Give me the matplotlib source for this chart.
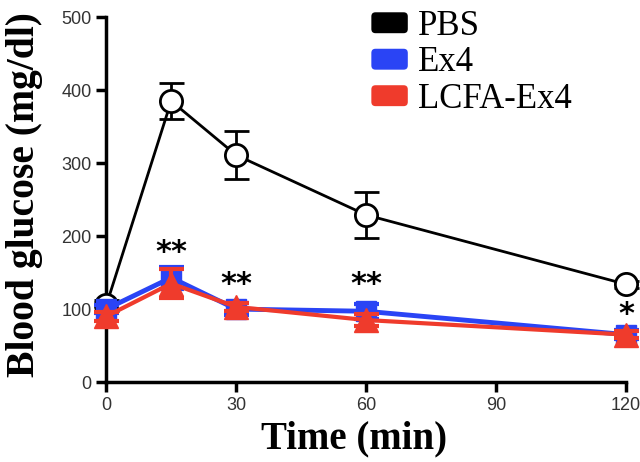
import matplotlib
matplotlib.use("Agg")
from matplotlib import pyplot as plt
from matplotlib.patches import FancyBboxPatch
from matplotlib.legend_handler import HandlerPatch

time = [0, 15, 30, 60, 120]

pbs = [105, 385, 311, 229, 134]
pbs_err = [8, 25, 33, 31, 5]

ex4 = [100, 143, 100, 97, 65]
ex4_err = [6, 15, 8, 10, 6]

lcfa = [90, 135, 103, 85, 65]
lcfa_err = [6, 20, 6, 8, 5]

stars = ["**", "**", "**", "*"]
star_x = [15, 30, 60, 120]
star_y = [178, 133, 133, 92]

fig = plt.figure(figsize=(6.4, 4.62), dpi=100)
ax = fig.add_axes([0.166, 0.173, 0.812, 0.79])

ax.errorbar(time, pbs, yerr=pbs_err, color="black", lw=2, marker="o", ms=16,
            mfc="white", mec="black", mew=2, capsize=9, capthick=2, elinewidth=2,
            clip_on=False, zorder=3)
ax.errorbar(time, ex4, yerr=ex4_err, color="#2a44f5", lw=3.5, marker="s", ms=15,
            capsize=9, capthick=3, elinewidth=3, clip_on=False, zorder=4)
ax.errorbar(time, lcfa, yerr=lcfa_err, color="#ef3b2c", lw=3, marker="^", ms=17,
            capsize=9, capthick=3, elinewidth=3, clip_on=False, zorder=5)

for s, x, y in zip(stars, star_x, star_y):
    ax.text(x, y, s, ha="center", va="center", fontsize=22, fontweight="bold",
            family="DejaVu Sans")

ax.set_xlim(0, 120)
ax.set_ylim(0, 500)
ax.set_xticks([0, 30, 60, 90, 120])
ax.set_yticks([0, 100, 200, 300, 400, 500])
for side in ["top", "right"]:
    ax.spines[side].set_visible(False)
for side in ["left", "bottom"]:
    ax.spines[side].set_linewidth(2.5)
ax.tick_params(width=2.5, length=7, labelsize=13, labelcolor="#333333")
for lab in ax.get_xticklabels() + ax.get_yticklabels():
    lab.set_family("Liberation Sans")

ax.set_xlabel("Time (min)", family="Liberation Serif", fontweight="bold",
              fontsize=28)
ax.set_ylabel("Blood glucose (mg/dl)", family="Liberation Serif", fontweight="bold",
              fontsize=28.5)
ax.xaxis.set_label_coords(0.477, -0.105)
ax.yaxis.set_label_coords(-0.121, 0.515)


class RoundHandler(HandlerPatch):
    def create_artists(self, legend, orig_handle, xdescent, ydescent, width,
                       height, fontsize, trans):
        p = FancyBboxPatch((-xdescent, -ydescent), width, height,
                           boxstyle="round,pad=0,rounding_size=3",
                           fc=orig_handle.get_facecolor(), ec="none",
                           transform=trans)
        return [p]


handles = [plt.Rectangle((0, 0), 1, 1, fc=c) for c in ["black", "#2a44f5", "#ef3b2c"]]
ax.legend(handles, ["PBS", "Ex4", "LCFA-Ex4"], loc="upper left",
          bbox_to_anchor=(0.45, 1.105), frameon=False,
          prop={"family": "Liberation Serif", "size": 25},
          handler_map={plt.Rectangle: RoundHandler()},
          handlelength=1.05, handleheight=0.55, labelspacing=0.1, handletextpad=0.3)

fig.savefig("out.png")
